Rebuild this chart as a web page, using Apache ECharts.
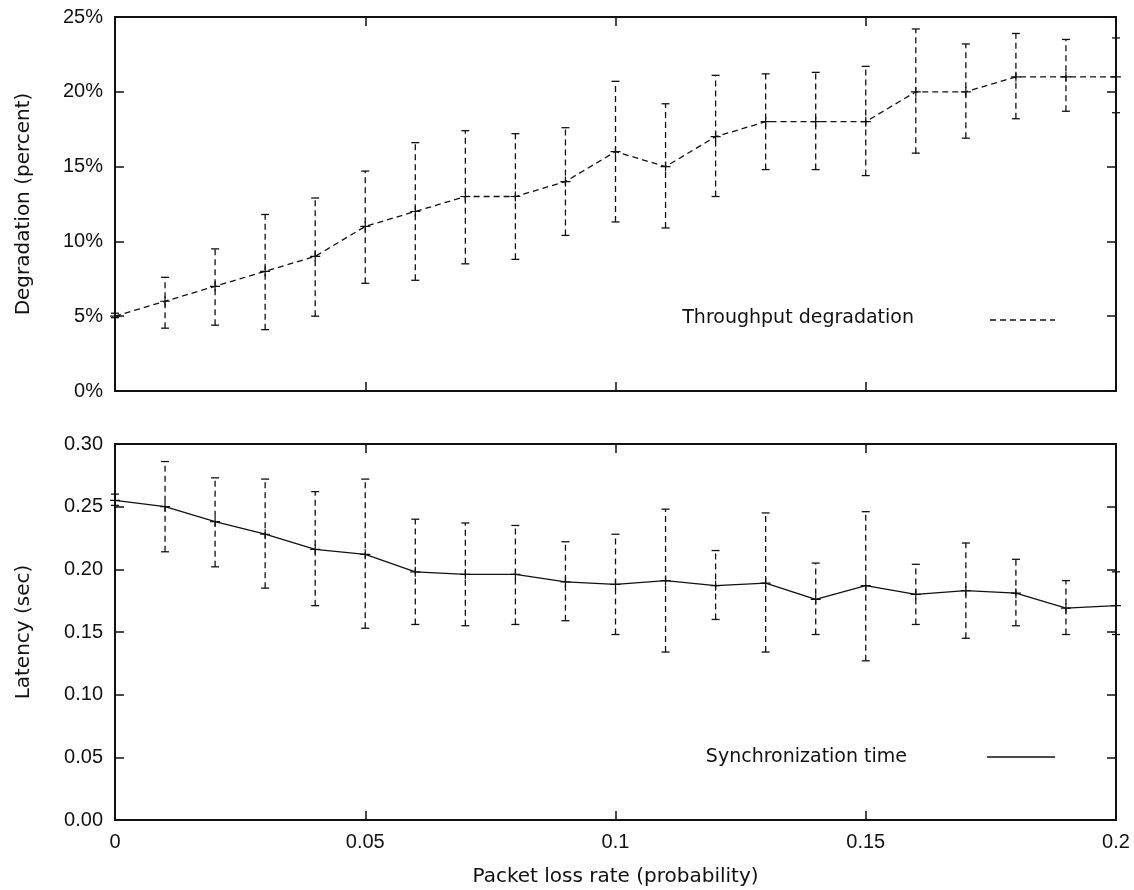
<!DOCTYPE html>
<html>
<head>
<meta charset="utf-8">
<title>Packet loss: throughput degradation and synchronization time</title>
<script src="https://cdn.jsdelivr.net/npm/echarts@6/dist/echarts.min.js"></script>
<style>
  html, body { margin: 0; padding: 0; background: #ffffff; }
  #chart { width: 1134px; height: 890px; }
</style>
</head>
<body>
<div id="chart"></div>
<script>
// Packet loss rate (probability) at each measured point
const lossRate = [0, 0.01, 0.02, 0.03, 0.04, 0.05, 0.06, 0.07, 0.08, 0.09, 0.10,
                  0.11, 0.12, 0.13, 0.14, 0.15, 0.16, 0.17, 0.18, 0.19, 0.20];

// Throughput degradation (%) with error-bar bounds
const degradation     = [5, 6, 7, 8, 9, 11, 12, 13, 13, 14, 16, 15, 17, 18, 18, 18, 20, 20, 21, 21, 21];
const degradationHigh = [5.2, 7.6, 9.5, 11.8, 12.9, 14.7, 16.6, 17.4, 17.2, 17.6, 20.7,
                         19.2, 21.1, 21.2, 21.3, 21.7, 24.2, 23.2, 23.9, 23.5, 23.6];
const degradationLow  = [4.9, 4.2, 4.4, 4.1, 5.0, 7.2, 7.4, 8.5, 8.8, 10.4, 11.3,
                         10.9, 13.0, 14.8, 14.8, 14.4, 15.9, 16.9, 18.2, 18.7, 18.6];

// Synchronization latency (sec) with error-bar bounds
const latency     = [0.255, 0.250, 0.238, 0.228, 0.216, 0.212, 0.198, 0.196, 0.196, 0.190, 0.188,
                     0.191, 0.187, 0.189, 0.176, 0.187, 0.180, 0.183, 0.181, 0.169, 0.171];
const latencyHigh = [0.260, 0.286, 0.273, 0.272, 0.262, 0.272, 0.240, 0.237, 0.235, 0.222, 0.228,
                     0.248, 0.215, 0.245, 0.205, 0.246, 0.204, 0.221, 0.208, 0.191, 0.198];
const latencyLow  = [0.251, 0.214, 0.202, 0.185, 0.171, 0.153, 0.156, 0.155, 0.156, 0.159, 0.148,
                     0.134, 0.160, 0.134, 0.148, 0.127, 0.156, 0.145, 0.155, 0.148, 0.148];

// Tick labels
const xTicks = [0, 0.05, 0.1, 0.15, 0.2];
const degradationTicks = ['0%', '5%', '10%', '15%', '20%', '25%'];
const latencyTicks = ['0.00', '0.05', '0.10', '0.15', '0.20', '0.25', '0.30'];

const FONT = "'Liberation Sans', Arial, Helvetica, sans-serif";
const TITLE_FONT = "'DejaVu Sans', Verdana, sans-serif";
const INK = '#111111';

const pairs = (ys) => lossRate.map((x, i) => [x, ys[i]]);
const bars = (lo, hi) => lossRate.map((x, i) => [x, lo[i], hi[i]]);

// Plus-sign marker used at every data point
const PLUS = 'path://M4.4,0 H5.6 V4.4 H10 V5.6 H5.6 V10 H4.4 V5.6 H0 V4.4 H4.4 Z';

function errorBarRenderer(params, api) {
  const x = api.value(0);
  const lo = api.coord([x, api.value(1)]);
  const hi = api.coord([x, api.value(2)]);
  const cap = 4;
  const style = { stroke: INK, lineWidth: 1.3, lineDash: [6, 4] };
  const capStyle = { stroke: INK, lineWidth: 1.3 };
  return {
    type: 'group',
    children: [
      { type: 'line', shape: { x1: lo[0], y1: lo[1], x2: hi[0], y2: hi[1] }, style: style },
      { type: 'line', shape: { x1: hi[0] - cap, y1: hi[1], x2: hi[0] + cap, y2: hi[1] }, style: capStyle },
      { type: 'line', shape: { x1: lo[0] - cap, y1: lo[1], x2: lo[0] + cap, y2: lo[1] }, style: capStyle }
    ]
  };
}

const tickText = { color: INK, fontFamily: FONT, fontSize: 20 };
const titleText = { color: INK, fontFamily: TITLE_FONT, fontSize: 20 };

function xAxes(gridIndex, showLabels) {
  const base = {
    type: 'value', gridIndex: gridIndex, min: 0, max: 0.2, interval: 0.05,
    splitLine: { show: false },
    axisLine: { show: true, onZero: false, lineStyle: { color: INK, width: 2 } },
    axisTick: { show: true, inside: true, length: 9, lineStyle: { color: INK, width: 1.5 } }
  };
  return [
    Object.assign({}, base, {
      position: 'bottom',
      axisLabel: showLabels ? Object.assign({ margin: 12, formatter: (v) => {
        const i = xTicks.findIndex((t) => Math.abs(t - v) < 1e-9);
        return i >= 0 ? String(xTicks[i]) : '';
      } }, tickText) : { show: false },
      name: showLabels ? 'Packet loss rate (probability)' : '',
      nameLocation: 'middle', nameGap: 47,
      nameTextStyle: titleText
    }),
    Object.assign({}, base, { position: 'top', axisLabel: { show: false } })
  ];
}

function yAxes(gridIndex, max, interval, labels, title) {
  const base = {
    type: 'value', gridIndex: gridIndex, min: 0, max: max, interval: interval,
    splitLine: { show: false },
    axisLine: { show: true, onZero: false, lineStyle: { color: INK, width: 2 } },
    axisTick: { show: true, inside: true, length: 9, lineStyle: { color: INK, width: 1.5 } }
  };
  return [
    Object.assign({}, base, {
      position: 'left',
      axisLabel: Object.assign({ margin: 12, formatter: (v) => labels[Math.round(v / interval)] }, tickText),
      name: title, nameLocation: 'middle', nameGap: 81,
      nameTextStyle: titleText
    }),
    Object.assign({}, base, { position: 'right', axisLabel: { show: false } })
  ];
}

const chart = echarts.init(document.getElementById('chart'), null, { renderer: 'canvas' });

chart.setOption({
  backgroundColor: '#ffffff',
  animation: false,
  grid: [
    { left: 115, top: 17, width: 1001, height: 374 },
    { left: 115, top: 444, width: 1001, height: 376 }
  ],
  xAxis: [].concat(xAxes(0, false), xAxes(1, true)),
  yAxis: [].concat(
    yAxes(0, 25, 5, degradationTicks, 'Degradation (percent)'),
    yAxes(1, 0.3, 0.05, latencyTicks, 'Latency (sec)')
  ),
  series: [
    {
      name: 'Throughput degradation error', type: 'custom', xAxisIndex: 0, yAxisIndex: 0,
      renderItem: errorBarRenderer, data: bars(degradationLow, degradationHigh), z: 2, silent: true
    },
    {
      name: 'Throughput degradation', type: 'line', xAxisIndex: 0, yAxisIndex: 0,
      data: pairs(degradation), symbol: PLUS, symbolSize: 10, showSymbol: true,
      itemStyle: { color: INK }, lineStyle: { color: INK, width: 1.3, type: [6, 4] }, z: 3, silent: true
    },
    {
      name: 'Synchronization time error', type: 'custom', xAxisIndex: 2, yAxisIndex: 2,
      renderItem: errorBarRenderer, data: bars(latencyLow, latencyHigh), z: 2, silent: true
    },
    {
      name: 'Synchronization time', type: 'line', xAxisIndex: 2, yAxisIndex: 2,
      data: pairs(latency), symbol: PLUS, symbolSize: 10, showSymbol: true,
      itemStyle: { color: INK }, lineStyle: { color: INK, width: 1.3, type: 'solid' }, z: 3, silent: true
    }
  ],
  graphic: [
    // key for the upper panel
    { type: 'text', x: 914, y: 318,
      style: { text: 'Throughput degradation', fill: INK, font: "19px 'DejaVu Sans', sans-serif",
               align: 'right', verticalAlign: 'middle' } },
    { type: 'line', shape: { x1: 990, y1: 320, x2: 1055, y2: 320 },
      style: { stroke: INK, lineWidth: 1.3, lineDash: [6, 4] } },
    // key for the lower panel
    { type: 'text', x: 907, y: 757,
      style: { text: 'Synchronization time', fill: INK, font: "19px 'DejaVu Sans', sans-serif",
               align: 'right', verticalAlign: 'middle' } },
    { type: 'line', shape: { x1: 987, y1: 757, x2: 1055, y2: 757 },
      style: { stroke: INK, lineWidth: 1.3 } }
  ]
});
</script>
</body>
</html>
